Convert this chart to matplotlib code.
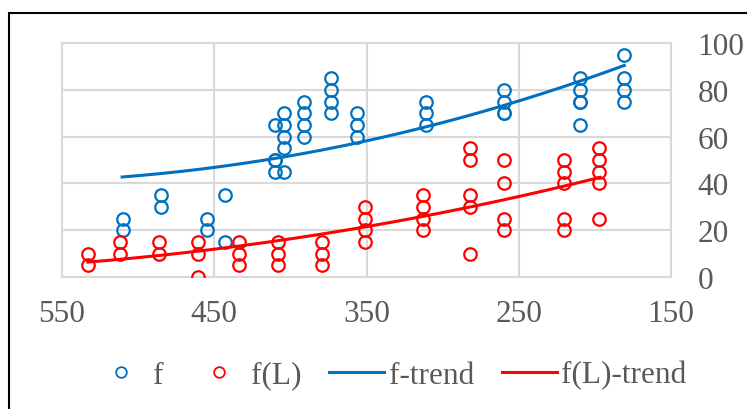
import numpy as np
import matplotlib
matplotlib.use("Agg")
import matplotlib.pyplot as plt
from matplotlib.patches import Rectangle

# f data: (x, values)
f_x = [510, 485, 455, 443, 410, 404, 391, 373, 356, 311, 260, 210, 181]
f_vals = [
    [25, 20],
    [35, 30],
    [25, 20],
    [35, 15],
    [65, 50, 50, 45],
    [70, 65, 60, 55, 45],
    [75, 70, 65, 60],
    [85, 80, 75, 70],
    [70, 65, 60],
    [75, 70, 65],
    [80, 75, 70, 70],
    [85, 80, 75, 75, 65],
    [95, 85, 80, 75],
]

# f(L) data
fl_x = [533, 512, 486, 461, 434, 408, 379, 351, 313, 282, 260, 220, 197]
fl_vals = [
    [10, 5],
    [15, 10],
    [15, 10],
    [15, 10, 0],
    [15, 10, 5],
    [15, 10, 5],
    [15, 10, 5],
    [30, 25, 20, 15],
    [35, 30, 25, 20],
    [55, 50, 35, 30, 10],
    [50, 40, 25, 20],
    [50, 45, 40, 25, 20],
    [55, 50, 45, 40, 25],
]

# trend curves, values
f_trend_x = [510.5, 479, 327.6, 248.7, 209.2, 180.7]
f_trend_y = [42.3, 45.0, 62.5, 73.9, 83.6, 91.3]
fl_trend_x = [533, 433.6, 393.4, 351, 196.7]
fl_trend_y = [6.3, 13.4, 17.0, 21.2, 42.6]

x_ticks = [550, 450, 350, 250, 150]
y_ticks = [0, 20, 40, 60, 80, 100]

BLUE = "#0070c0"
RED = "#ff0000"
GRAY = "#595959"
FS = 22.5

plt.rcParams["font.family"] = ["Liberation Serif", "DejaVu Serif"]


def flatten(xs, vals):
    px, py = [], []
    for x, vs in zip(xs, vals):
        for v in vs:
            px.append(x)
            py.append(v)
    return np.array(px, float), np.array(py, float)


fx, fy = flatten(f_x, f_vals)
lx, ly = flatten(fl_x, fl_vals)

fig = plt.figure(figsize=(7.47, 4.10), dpi=100)
ax = fig.add_axes([62 / 747, 1 - 278 / 410, (671 - 62) / 747, (278 - 44) / 410])

# outer chart border
fig.patches.append(Rectangle((9 / 747, -0.1), 1.2, 1 - 14 / 410 + 0.1, transform=fig.transFigure,
                             fill=False, edgecolor="black", linewidth=1.5))

ax.plot(fx, fy, "o", mfc="none", mec=BLUE, mew=1.6, ms=9, label="f", zorder=3)
ax.plot(lx, ly, "o", mfc="none", mec=RED, mew=1.6, ms=9, label="f(L)", zorder=3)

# smooth trend lines through the read-off points
for tx, ty, c, name in [(f_trend_x, f_trend_y, BLUE, "f-trend"),
                        (fl_trend_x, fl_trend_y, RED, "f(L)-trend")]:
    coef = np.polyfit(tx, ty, 2)
    xx = np.linspace(min(tx), max(tx), 200)
    ax.plot(xx, np.polyval(coef, xx), color=c, linewidth=2.2, label=name, zorder=4)

ax.set_xlim(550, 150)
ax.set_ylim(0, 100)
ax.set_xticks(x_ticks)
ax.set_yticks(y_ticks)
ax.yaxis.tick_right()
ax.tick_params(axis="both", length=0, labelsize=FS, labelcolor=GRAY)
ax.tick_params(axis="x", pad=16)
ax.tick_params(axis="y", pad=19)
for lab in ax.get_yticklabels():
    lab.set_horizontalalignment("left")
ax.grid(True, color="#d9d9d9", linewidth=1.5)
ax.set_axisbelow(True)
for s in ax.spines.values():
    s.set_color("#d9d9d9")
    s.set_linewidth(1.5)

leg = fig.legend(loc="center", bbox_to_anchor=(390 / 747, 1 - 376 / 410), ncol=4, frameon=False,
                 fontsize=FS, markerscale=0.85, handlelength=1.75, handletextpad=0.15,
                 columnspacing=0.9, labelcolor=GRAY)
for h in leg.legend_handles[:2]:
    h.set_markeredgewidth(1.3)

fig.savefig("out.png", dpi=100)
